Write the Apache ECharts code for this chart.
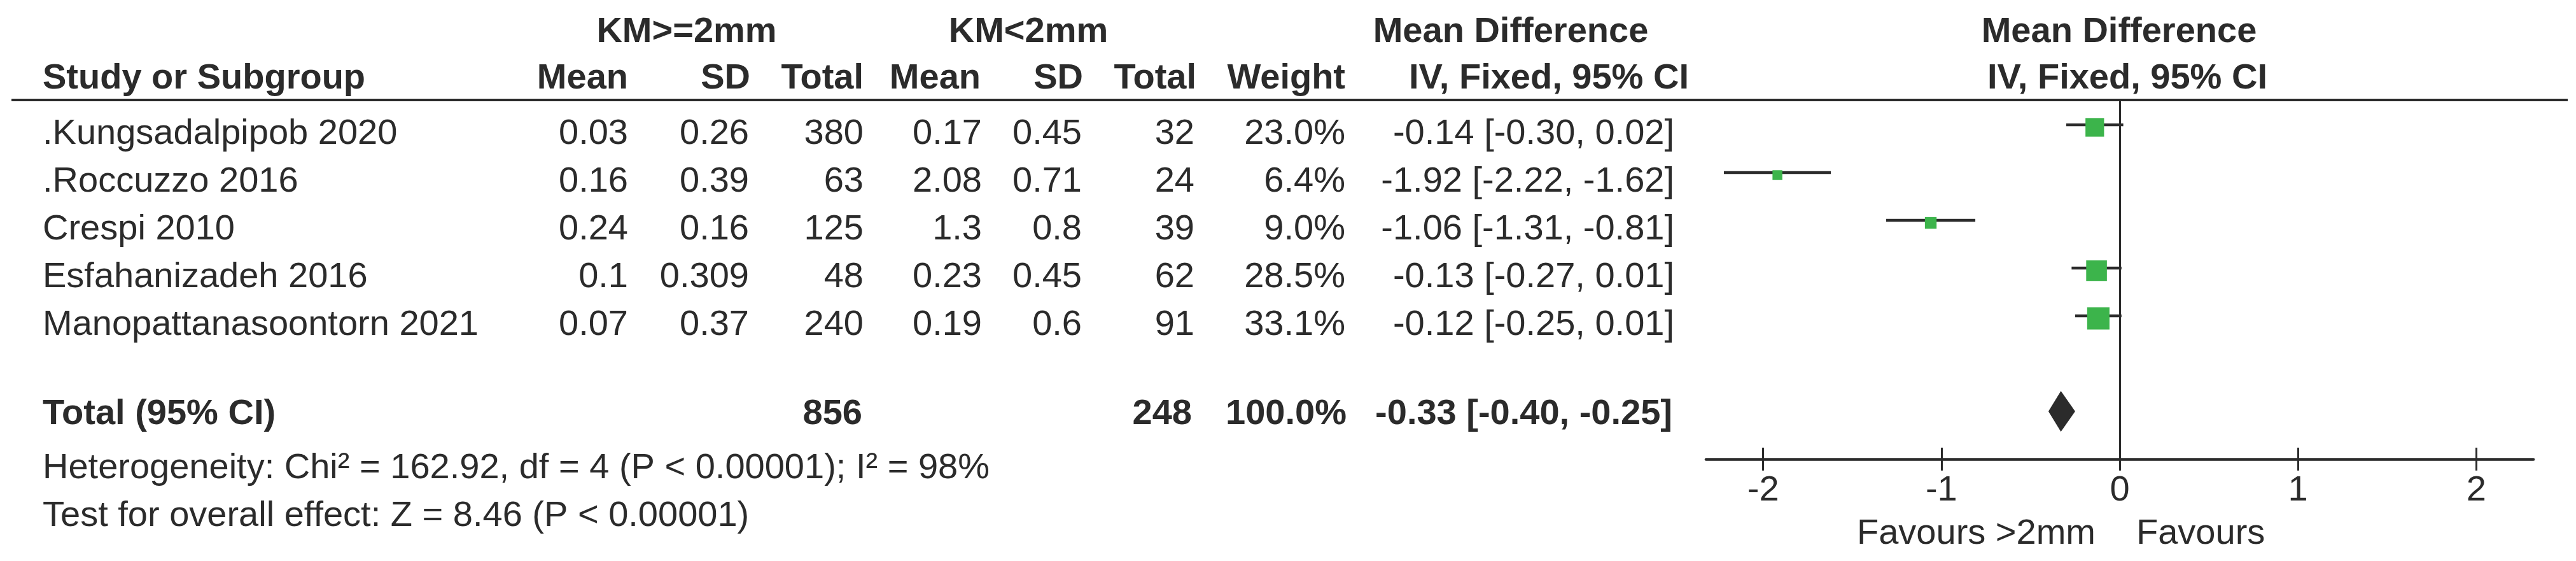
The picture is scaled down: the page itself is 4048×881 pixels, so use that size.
<!DOCTYPE html>
<html>
<head>
<meta charset="utf-8">
<script src="https://cdn.jsdelivr.net/npm/echarts@6/dist/echarts.min.js"></script>
<style>
  html, body { margin: 0; padding: 0; background: #ffffff; }
  #forest { width: 4048px; height: 881px; }
</style>
</head>
<body>
<div id="forest"></div>
<script>
// study rows
const studies = ['.Kungsadalpipob 2020', '.Roccuzzo 2016', 'Crespi 2010', 'Esfahanizadeh 2016', 'Manopattanasoontorn 2021']
const meanA = [0.03, 0.16, 0.24, 0.1, 0.07]
const sdA = [0.26, 0.39, 0.16, 0.309, 0.37]
const totalA = [380, 63, 125, 48, 240]
const meanB = [0.17, 2.08, 1.3, 0.23, 0.19]
const sdB = [0.45, 0.71, 0.8, 0.45, 0.6]
const totalB = [32, 24, 39, 62, 91]
const weight = [23.0, 6.4, 9.0, 28.5, 33.1]
const md = [-0.14, -1.92, -1.06, -0.13, -0.12]
const ciLow = [-0.30, -2.22, -1.31, -0.27, -0.25]
const ciHigh = [0.02, -1.62, -0.81, 0.01, 0.01]

// pooled result
const sumA = 856
const sumB = 248
const sumWeight = 100.0
const pooledMd = -0.33
const pooledLow = -0.40
const pooledHigh = -0.25
const totalRow = 6

const xTicks = [-2, -1, 0, 1, 2]
const heterogeneity = 'Heterogeneity: Chi² = 162.92, df = 4 (P < 0.00001); I² = 98%'
const overall = 'Test for overall effect: Z = 8.46 (P < 0.00001)'

const FONT = '"Liberation Sans", Arial, Helvetica, sans-serif'
const INK = '#2b2b2b'
const GREEN = '#3cb44b'
const ROW0 = 230   // baseline of first study row
const ROWH = 75
const GRID = { left: 2681, width: 1300, top: 158.5, height: 562.5 }

function txt (str, x, base, align, bold) {
  return {
    type: 'text',
    x: x,
    y: base - 19,
    silent: true,
    style: {
      text: str,
      font: (bold ? 'bold ' : '') + '56px ' + FONT,
      fill: INK,
      align: align,
      verticalAlign: 'middle'
    }
  }
}
function ci (m, l, h) {
  return m.toFixed(2) + ' [' + l.toFixed(2) + ', ' + h.toFixed(2) + ']'
}

let texts = [
  txt('KM>=2mm', 1079, 70, 'center', true),
  txt('KM<2mm', 1616, 70, 'center', true),
  txt('Mean Difference', 2374, 70, 'center', true),
  txt('Mean Difference', 3330, 70, 'center', true),
  txt('Study or Subgroup', 67, 143, 'left', true),
  txt('Mean', 987, 143, 'right', true),
  txt('SD', 1179, 143, 'right', true),
  txt('Total', 1357, 143, 'right', true),
  txt('Mean', 1541, 143, 'right', true),
  txt('SD', 1702, 143, 'right', true),
  txt('Total', 1880, 143, 'right', true),
  txt('Weight', 2114, 143, 'right', true),
  txt('IV, Fixed, 95% CI', 2434, 143, 'center', true),
  txt('IV, Fixed, 95% CI', 3343, 143, 'center', true)
]
studies.forEach(function (name, i) {
  let b = ROW0 + ROWH * i
  texts.push(txt(name, 67, b, 'left'))
  texts.push(txt(String(meanA[i]), 987, b, 'right'))
  texts.push(txt(String(sdA[i]), 1177, b, 'right'))
  texts.push(txt(String(totalA[i]), 1357, b, 'right'))
  texts.push(txt(String(meanB[i]), 1543, b, 'right'))
  texts.push(txt(String(sdB[i]), 1700, b, 'right'))
  texts.push(txt(String(totalB[i]), 1877, b, 'right'))
  texts.push(txt(weight[i].toFixed(1) + '%', 2114, b, 'right'))
  texts.push(txt(ci(md[i], ciLow[i], ciHigh[i]), 2631, b, 'right'))
})
let tb = ROW0 + ROWH * totalRow - 10
texts.push(txt('Total (95% CI)', 67, tb, 'left', true))
texts.push(txt(String(sumA), 1355, tb, 'right', true))
texts.push(txt(String(sumB), 1873, tb, 'right', true))
texts.push(txt(sumWeight.toFixed(1) + '%', 2116, tb, 'right', true))
texts.push(txt(ci(pooledMd, pooledLow, pooledHigh), 2628, tb, 'right', true))
texts.push(txt(heterogeneity, 67, 755, 'left'))
texts.push(txt(overall, 67, 830, 'left'))
texts.push(txt('Favours >2mm', 3293, 858, 'right'))
texts.push(txt('Favours', 3357, 858, 'left'))
texts.push({
  type: 'line',
  silent: true,
  shape: { x1: 18, y1: 157, x2: 4035, y2: 157 },
  style: { stroke: INK, lineWidth: 4 }
})

let studyData = studies.map(function (s, i) {
  return [md[i], ciLow[i], ciHigh[i], i, weight[i]]
})

let chart = echarts.init(document.getElementById('forest'))
let option = {
  backgroundColor: '#ffffff',
  animation: false,
  graphic: texts,
  // second grid only carries the upward half of the crossing ticks
  grid: [GRID, GRID],
  xAxis: [
    {
      type: 'value',
      gridIndex: 0,
      min: -2.32,
      max: 2.32,
      splitLine: { show: false },
      axisLine: { show: true, onZero: false, lineStyle: { color: INK, width: 4.5 } },
      axisTick: { show: true, length: 18, customValues: xTicks, lineStyle: { color: INK, width: 3 } },
      axisLabel: { customValues: xTicks, color: INK, fontSize: 56, fontFamily: FONT, margin: 22 }
    },
    {
      type: 'value',
      gridIndex: 1,
      position: 'bottom',
      min: -2.32,
      max: 2.32,
      splitLine: { show: false },
      axisLine: { show: false, onZero: false },
      axisTick: { show: true, inside: true, length: 18, customValues: xTicks, lineStyle: { color: INK, width: 3 } },
      axisLabel: { show: false }
    }
  ],
  yAxis: [
    { type: 'value', gridIndex: 0, inverse: true, min: -0.5, max: 7, show: false },
    { type: 'value', gridIndex: 1, inverse: true, min: -0.5, max: 7, show: false }
  ],
  series: [
    {
      type: 'custom',
      name: 'studies',
      data: studyData,
      encode: { x: [0, 1, 2], y: 3 },
      renderItem: function (params, api) {
        let y = api.value(3)
        let a = api.coord([api.value(1), y])
        let b = api.coord([api.value(2), y])
        let c = api.coord([api.value(0), y])
        let s = 6.1 * Math.sqrt(api.value(4))
        return {
          type: 'group',
          children: [
            {
              type: 'line',
              shape: { x1: a[0], y1: a[1], x2: b[0], y2: b[1] },
              style: { stroke: INK, lineWidth: 4.5 }
            },
            {
              type: 'rect',
              shape: { x: c[0] - s / 2, y: c[1] - s / 2 + 4, width: s, height: s },
              style: { fill: GREEN }
            }
          ]
        }
      },
      markLine: {
        silent: true,
        symbol: 'none',
        label: { show: false },
        lineStyle: { color: INK, width: 3, type: 'solid' },
        data: [{ xAxis: 0 }]
      }
    },
    {
      type: 'custom',
      name: 'total',
      data: [[pooledMd, pooledLow, pooledHigh, totalRow]],
      encode: { x: [0, 1, 2], y: 3 },
      renderItem: function (params, api) {
        let y = api.value(3)
        let l = api.coord([api.value(1), y])
        let h = api.coord([api.value(2), y])
        let c = api.coord([api.value(0), y])
        return {
          type: 'polygon',
          shape: { points: [[l[0], c[1]], [c[0], c[1] - 32], [h[0], c[1]], [c[0], c[1] + 32]] },
          style: { fill: INK }
        }
      }
    }
  ]
}
chart.setOption(option)
window.addEventListener('resize', function () { chart.resize() })
</script>
</body>
</html>
